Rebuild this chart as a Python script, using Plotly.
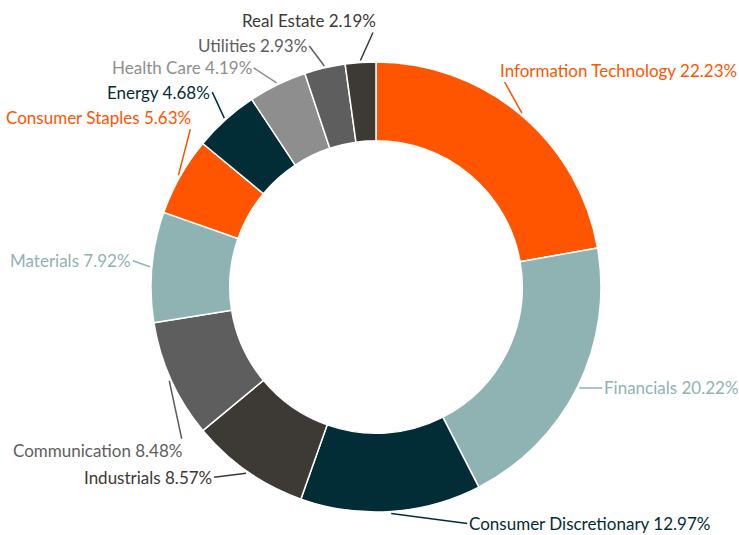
import math
import plotly.graph_objects as go

sectors = ["Information Technology", "Financials", "Consumer Discretionary", "Industrials",
           "Communication", "Materials", "Consumer Staples", "Energy", "Health Care",
           "Utilities", "Real Estate"]
weights = [22.23, 20.22, 12.97, 8.57, 8.48, 7.92, 5.63, 4.68, 4.19, 2.93, 2.19]
colors = ["#FF5500", "#8FB3B2", "#032D36", "#3D3935", "#5E5E5E", "#8FB3B2",
          "#FF5500", "#032D36", "#8E8E8E", "#5E5E5E", "#3D3935"]

# label placement (pixel offsets from slice edge point, and horizontal anchor)
label_offsets = {
    "Information Technology": (-24, -43, "left"),
    "Financials": (23, 0, "left"),
    "Consumer Discretionary": (76, 10, "left"),
    "Industrials": (-32, 4, "right"),
    "Communication": (15, 70, "right"),
    "Materials": (-17, -6, "right"),
    "Consumer Staples": (15, -58, "right"),
    "Energy": (-12, -26, "right"),
    "Health Care": (-23, -15, "right"),
    "Utilities": (-15, -20, "right"),
    "Real Estate": (18, -40, "right"),
}

W, H = 739, 535
cx, cy, R = 376, 287, 225

fig = go.Figure(go.Pie(
    labels=sectors, values=weights, sort=False, direction="clockwise", rotation=0,
    hole=0.65, marker=dict(colors=colors, line=dict(color="white", width=1.5)),
    textinfo="none", hoverinfo="label+percent", showlegend=False,
    domain=dict(x=[(cx - R) / W, (cx + R) / W], y=[(H - cy - R) / H, (H - cy + R) / H]),
))

total = sum(weights)
cum = 0.0
annotations = []
for name, v, c in zip(sectors, weights, colors):
    mid = (cum + v / 2) / total * 2 * math.pi
    cum += v
    r = R + 2
    px = cx + r * math.sin(mid)
    py = cy - r * math.cos(mid)
    dx, dy, anchor = label_offsets[name]
    annotations.append(dict(
        x=px / W, y=(H - py) / H, xref="paper", yref="paper",
        text=f"{name} {v:.2f}%", showarrow=True, arrowhead=0, arrowwidth=1.5,
        arrowcolor=c, ax=dx, ay=dy, xanchor=anchor, yanchor="middle",
        font=dict(family="Lato", size=17, color=c), standoff=0,
    ))

fig.update_layout(
    width=W, height=H, margin=dict(l=0, r=0, t=0, b=0),
    paper_bgcolor="white", plot_bgcolor="white",
    annotations=annotations,
)
fig.write_html("out.html", config={"displayModeBar": False},
               post_script="document.body.style.margin='0';")
